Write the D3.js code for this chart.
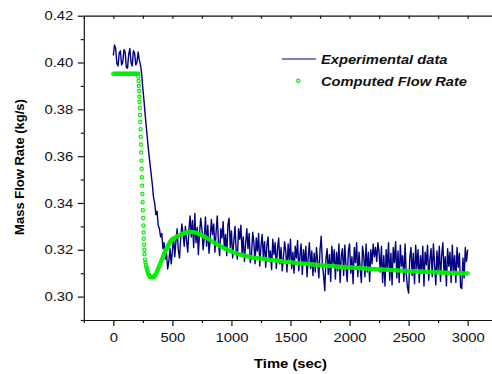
<!DOCTYPE html>
<html>
<head>
<meta charset="utf-8">
<script src="https://cdn.jsdelivr.net/npm/d3@7"></script>
<style>
  body { margin: 0; background: #fff; }
  svg { display: block; font-family: "Liberation Sans", Arial, sans-serif; }
</style>
</head>
<body>
<div id="chart"></div>
<script>
const width = 492, height = 374;
const plotLeft = 83.8, plotRight = 497.2, plotTop = 15.7, plotBottom = 320;
const stretch = 1.14; // the original text is a bit wider than Arial

// experimental data, one reading every 10 s from 0 to 3000 s
const expStep = 10;
const expValues = [
  .4030, .4075, .4060, .3995, .3985, .4040, .4050, .3990, .4000, .4055,
  .4045, .3980, .3975, .4035, .4060, .4000, .3985, .4050, .4040, .3990,
  .4000, .4045, .4010, .3990, .3950, .3890, .3835, .3775, .3720, .3665,
  .3615, .3570, .3525, .3480, .3425, .3400, .3350, .3365, .3305, .3290,
  .3255, .3270, .3205, .3230, .3160, .3185, .3118, .3150, .3205, .3140,
  .3195, .3255, .3170, .3235, .3290, .3200, .3165, .3245, .3310, .3270,
  .3215, .3300, .3240, .3190, .3285, .3345, .3255, .3325, .3210, .3355,
  .3230, .3295, .3180, .3270, .3335, .3290, .3200, .3250, .3340, .3215,
  .3305, .3185, .3240, .3330, .3265, .3310, .3190, .3275, .3345, .3230,
  .3175, .3290, .3250, .3320, .3200, .3265, .3175, .3305, .3335, .3210,
  .3280, .3165, .3235, .3300, .3200, .3160, .3290, .3245, .3305, .3185,
  .3255, .3150, .3225, .3290, .3205, .3270, .3145, .3180, .3275, .3230,
  .3140, .3250, .3195, .3270, .3130, .3215, .3265, .3170, .3235, .3125,
  .3220, .3255, .3150, .3195, .3115, .3245, .3180, .3230, .3120, .3205,
  .3250, .3140, .3210, .3110, .3165, .3235, .3195, .3105, .3225, .3155,
  .3245, .3120, .3190, .3100, .3215, .3165, .3240, .3110, .3175, .3225,
  .3095, .3200, .3140, .3215, .3085, .3170, .3230, .3120, .3195, .3090,
  .3185, .3105, .3210, .3150, .3080, .3200, .3258, .3140, .3090, .3025,
  .3160, .3205, .3095, .3180, .3065, .3215, .3140, .3200, .3075, .3190,
  .3110, .3225, .3060, .3175, .3205, .3090, .3220, .3130, .3065, .3195,
  .3225, .3100, .3170, .3055, .3210, .3145, .3230, .3085, .3190, .3120,
  .3060, .3215, .3175, .3085, .3225, .3105, .3190, .3065, .3200, .3140,
  .3225, .3170, .3210, .3150, .3230, .3190, .3105, .3215, .3060, .3175,
  .3045, .3200, .3120, .3230, .3070, .3185, .3050, .3210, .3145, .3235,
  .3080, .3195, .3060, .3220, .3130, .3175, .3065, .3225, .3100, .3040,
  .3015, .3165, .3210, .3090, .3185, .3055, .3220, .3120, .3200, .3060,
  .3175, .3100, .3215, .3045, .3190, .3135, .3220, .3070, .3160, .3205,
  .3085, .3225, .3140, .3050, .3195, .3110, .3215, .3065, .3180, .3230,
  .3095, .3170, .3045, .3205, .3130, .3190, .3060, .3220, .3105, .3175,
  .3060, .3210, .3125, .3185, .3040, .3035, .3165, .3080, .3210, .3150,
  .3200
];

// computed flow rate, read more densely where the curve moves fast
const compFlatTime = d3.range(0, 211, 10);
const compFlatValues = [
  .3952, .3952, .3952, .3952, .3952, .3952, .3952, .3952, .3952, .3952, .3952,
  .3952, .3952, .3952, .3952, .3952, .3952, .3952, .3952, .3952, .3952, .3952
];
const compDropTime = d3.range(212, 265, 2);
const compDropValues = [
  .3940, .3921, .3900, .3878, .3854, .3831, .3805, .3776, .3746, .3715,
  .3683, .3650, .3616, .3581, .3546, .3510, .3474, .3438, .3403, .3369,
  .3336, .3304, .3274, .3247, .3222, .3200, .3181
];
const compMinTime = d3.range(268, 333, 4);
const compMinValues = [
  .3158, .3146, .3135, .3125, .3118, .3110, .3104, .3099, .3094, .3090,
  .3087, .3085, .3084, .3083, .3083, .3083, .3084
];
const compRiseTime = d3.range(335, 501, 5);
const compRiseValues = [
  .3084, .3085, .3086, .3088, .3091, .3096, .3101, .3107, .3113, .3119,
  .3126, .3132, .3138, .3145, .3151, .3157, .3163, .3170, .3176, .3182,
  .3188, .3194, .3199, .3204, .3209, .3214, .3219, .3224, .3228, .3232,
  .3236, .3239, .3242, .3245
];
const compTailTime = d3.range(510, 3001, 15);
const compTailValues = [
  .3248, .3253, .3258, .3262, .3266, .3269, .3272, .3274, .3275, .3276,
  .3276, .3275, .3274, .3272, .3269, .3266, .3262, .3258, .3254, .3249,
  .3245, .3240, .3235, .3230, .3226, .3221, .3217, .3213, .3209, .3205,
  .3202, .3198, .3195, .3192, .3189, .3186, .3184, .3181, .3179, .3177,
  .3175, .3173, .3171, .3170, .3168, .3167, .3166, .3165, .3164, .3163,
  .3162, .3161, .3160, .3159, .3158, .3157, .3156, .3155, .3154, .3153,
  .3152, .3151, .3150, .3149, .3148, .3148, .3147, .3146, .3145, .3144,
  .3144, .3143, .3142, .3141, .3141, .3140, .3139, .3138, .3138, .3137,
  .3136, .3136, .3135, .3134, .3134, .3133, .3132, .3132, .3131, .3130,
  .3130, .3129, .3129, .3128, .3128, .3127, .3126, .3126, .3125, .3125,
  .3124, .3124, .3123, .3123, .3122, .3122, .3121, .3121, .3120, .3120,
  .3119, .3119, .3118, .3118, .3117, .3117, .3116, .3116, .3116, .3115,
  .3115, .3114, .3114, .3113, .3113, .3113, .3112, .3112, .3111, .3111,
  .3111, .3110, .3110, .3109, .3109, .3109, .3108, .3108, .3107, .3107,
  .3107, .3106, .3106, .3106, .3105, .3105, .3105, .3104, .3104, .3104,
  .3103, .3103, .3103, .3102, .3102, .3102, .3101, .3101, .3101, .3101,
  .3100, .3100, .3100, .3100, .3099, .3099, .3099
];

const xTicks = [0, 500, 1000, 1500, 2000, 2500, 3000];
const xMinor = [-250, 250, 750, 1250, 1750, 2250, 2750, 3250];
const yTicks = [0.30, 0.32, 0.34, 0.36, 0.38, 0.40, 0.42];
const yMinor = [0.29, 0.31, 0.33, 0.35, 0.37, 0.39, 0.41];

const seriesNames = ["Experimental data", "Computed Flow Rate"];
const navy = "#000080", green = "#00ee00";

function zip(times, values) {
  return times.slice(0, values.length).map((t, i) => ({ t: t, v: values[i] }));
}

const expData = expValues.map((v, i) => ({ t: i * expStep, v: v }));
const compData = [].concat(
  zip(compFlatTime, compFlatValues),
  zip(compDropTime, compDropValues),
  zip(compMinTime, compMinValues),
  zip(compRiseTime, compRiseValues),
  zip(compTailTime, compTailValues)
);

const x = d3.scaleLinear().domain([-250, 3250]).range([plotLeft, plotRight]);
const y = d3.scaleLinear().domain([0.29, 0.42]).range([plotBottom, plotTop]);

const svg = d3.select("#chart")
  .append("svg")
  .attr("width", width)
  .attr("height", height);

// data first so the axes sit on top
svg.append("path")
  .datum(expData)
  .attr("fill", "none")
  .attr("stroke", navy)
  .attr("stroke-width", 1.4)
  .attr("stroke-linejoin", "round")
  .attr("d", d3.line().x(d => x(d.t)).y(d => y(d.v)));

svg.append("g")
  .selectAll("circle")
  .data(compData)
  .join("circle")
  .attr("cx", d => x(d.t))
  .attr("cy", d => y(d.v))
  .attr("r", 1.6)
  .attr("fill", "none")
  .attr("stroke", green)
  .attr("stroke-width", 1.2);

function styleAxis(g) {
  g.selectAll("path, line").attr("stroke", "#111").attr("stroke-width", 1.2);
  g.selectAll("text").attr("fill", "#111").style("font-size", "13px");
}

// bottom axis
svg.append("g")
  .attr("transform", `translate(0,${plotBottom})`)
  .call(d3.axisBottom(x).tickValues(xMinor).tickSize(3).tickSizeOuter(0).tickFormat(""))
  .call(styleAxis);
const xAxis = svg.append("g")
  .attr("transform", `translate(0,${plotBottom})`)
  .call(d3.axisBottom(x).tickValues(xTicks).tickSize(6).tickSizeOuter(0).tickPadding(6.3).tickFormat(d3.format("d")))
  .call(styleAxis);
xAxis.select(".domain").remove();
xAxis.selectAll("text").attr("transform", `scale(${stretch},1)`);

// top line with small inward ticks
svg.append("g")
  .attr("transform", `translate(0,${plotTop})`)
  .call(d3.axisTop(x).tickValues(xTicks.concat(xMinor)).tickSize(-3).tickSizeOuter(0).tickFormat(""))
  .call(styleAxis);

// left axis
svg.append("g")
  .attr("transform", `translate(${plotLeft},0)`)
  .call(d3.axisLeft(y).tickValues(yMinor).tickSize(3).tickSizeOuter(0).tickFormat(""))
  .call(styleAxis);
const yAxis = svg.append("g")
  .attr("transform", `translate(${plotLeft},0)`)
  .call(d3.axisLeft(y).tickValues(yTicks).tickSize(6).tickSizeOuter(0).tickPadding(3.2).tickFormat(d3.format(".2f")))
  .call(styleAxis);
yAxis.select(".domain").remove();
yAxis.selectAll("text").attr("transform", `scale(${stretch},1)`);

// axis titles
svg.append("text")
  .attr("transform", `translate(${(plotLeft + plotRight) / 2},368) scale(${stretch},1)`)
  .attr("text-anchor", "middle")
  .style("font-size", "13px")
  .style("font-weight", "bold")
  .text("Time (sec)");

svg.append("text")
  .attr("transform", "translate(24,167) rotate(-90)")
  .attr("text-anchor", "middle")
  .style("font-size", "13px")
  .style("font-weight", "bold")
  .text("Mass Flow Rate (kg/s)");

// legend
const legend = svg.append("g");
legend.append("line")
  .attr("x1", 282).attr("x2", 316)
  .attr("y1", 59).attr("y2", 59)
  .attr("stroke", navy)
  .attr("stroke-width", 1);
legend.append("circle")
  .attr("cx", 298.3).attr("cy", 80.7)
  .attr("r", 1.6)
  .attr("fill", "none")
  .attr("stroke", green)
  .attr("stroke-width", 1.2);
legend.selectAll("text")
  .data(seriesNames)
  .join("text")
  .attr("transform", (d, i) => `translate(321,${64 + i * 22}) scale(${stretch - 0.01},1)`)
  .style("font-size", "13px")
  .style("font-weight", "bold")
  .style("font-style", "italic")
  .attr("fill", "#111")
  .text(d => d);
</script>
</body>
</html>
